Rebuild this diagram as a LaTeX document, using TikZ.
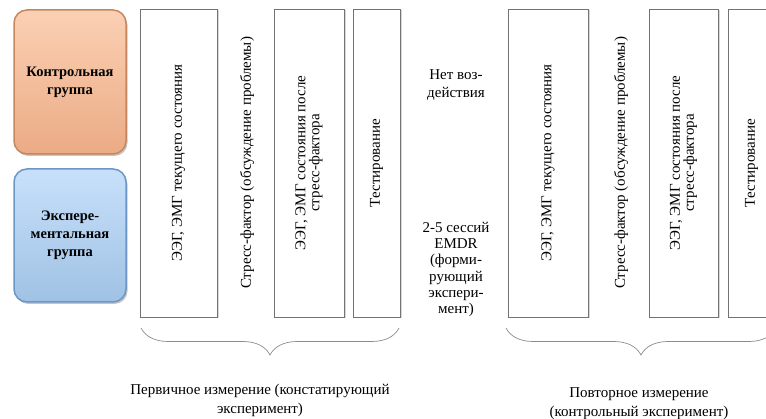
\documentclass[tikz,border=0pt]{standalone}
\usepackage{fontspec}
\setmainfont{Liberation Serif}
\newfontfamily\tnr{Liberation Serif}
\usetikzlibrary{shadows,decorations.pathreplacing,shadings}

\definecolor{orfill}{RGB}{247,180,140}
\definecolor{ortop}{RGB}{251,208,180}
\definecolor{orborder}{RGB}{200,134,94}
\definecolor{blfill}{RGB}{168,204,240}
\definecolor{bltop}{RGB}{200,224,250}
\definecolor{blborder}{RGB}{108,150,200}

\tikzset{
  grp/.style={draw, line width=1.5pt, rounded corners=13pt, minimum width=112pt,
    align=center, font=\tnr\bfseries\fontsize{14.5}{18}\selectfont,
    drop shadow={shadow xshift=1.5pt, shadow yshift=-2pt, opacity=.45}},
  col/.style={draw=black!55, line width=0.6pt, fill=white, inner sep=0pt,
    minimum height=308pt,
    drop shadow={shadow xshift=1.5pt, shadow yshift=-1.5pt, opacity=.3}},
  vtext/.style={rotate=90, align=center, font=\tnr\fontsize{15}{14}\selectfont},
  mtext/.style={align=center, font=\tnr\fontsize{15}{17.5}\selectfont},
  lbl/.style={align=center, font=\tnr\fontsize{15}{19}\selectfont},
  brc/.style={draw=black!45, line width=0.7pt, decorate,
    decoration={brace, mirror, amplitude=27pt}}
}

\begin{document}
\begin{tikzpicture}[x=1pt, y=-1pt]
\useasboundingbox (0,0) rectangle (766,419);
\fill[white] (0,0) rectangle (766,419);

% group boxes
\node[grp, draw=orborder, top color=ortop, middle color=orfill, bottom color=orfill!95!black,
  minimum height=144pt] (ctrl) at (70,82) {Контрольная\\группа};
\node[grp, draw=blborder, top color=bltop, middle color=blfill, bottom color=blfill!95!black,
  minimum height=133pt] (expg) at (70,235.5) {Экспере-\\ментальная\\группа};

% first measurement
\node[col, minimum width=77pt] (r1) at (178.5,163) {};
\node[vtext] (t1) at (r1) {ЭЭГ, ЭМГ текущего состояния};
\node[vtext] (t2) at (247,163) {Стресс-фактор (обсуждение проблемы)};
\node[col, minimum width=70pt] (r3) at (309,163) {};
\node[vtext] (t3) at (r3) {ЭЭГ, ЭМГ состояния после\\стресс-фактора};
\node[col, minimum width=47pt] (r4) at (376.5,163) {};
\node[vtext] (t4) at (r4) {Тестирование};

% middle
\node[mtext] (m1) at (456,85) {Нет воз-\\действия};
\node[mtext, font=\tnr\fontsize{15}{16.2}\selectfont] (m2) at (456,269.5) {2-5 сессий\\EMDR\\(форми-\\рующий\\экспери-\\мент)};

% second measurement
\node[col, minimum width=80pt] (r5) at (548,163) {};
\node[vtext] (t5) at (r5) {ЭЭГ, ЭМГ текущего состояния};
\node[vtext] (t6) at (621,163) {Стресс-фактор (обсуждение проблемы)};
\node[col, minimum width=69pt] (r7) at (683.5,163) {};
\node[vtext] (t7) at (r7) {ЭЭГ, ЭМГ состояния после\\стресс-фактора};
\node[col, minimum width=47pt] (r8) at (751.5,163) {};
\node[vtext] (t8) at (r8) {Тестирование};

% braces
\coordinate (b1s) at (141,328);
\coordinate (b1e) at (399,328);
\coordinate (b2s) at (506,328);
\coordinate (b2e) at (776,328);
\draw[brc] (b1s) -- (b1e);
\draw[brc] (b2s) -- (b2e);

\node[lbl] (L1) at (260,400) {Первичное измерение (констатирующий\\эксперимент)};
\node[lbl] (L2) at (639,403.5) {Повторное измерение\\(контрольный эксперимент)};
\end{tikzpicture}
\end{document}
